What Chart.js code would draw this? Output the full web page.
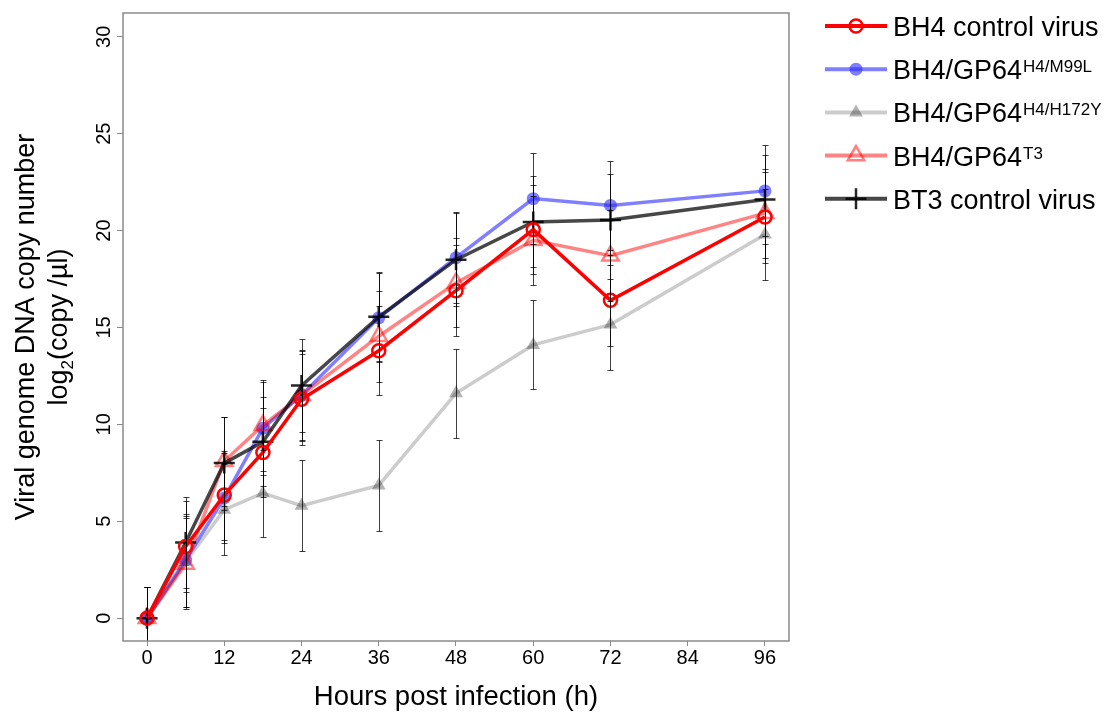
<!DOCTYPE html>
<html>
<head>
<meta charset="utf-8">
<script src="https://cdn.jsdelivr.net/npm/chart.js@4/dist/chart.umd.min.js"></script>
<style>
  html, body { margin: 0; padding: 0; background: #ffffff; }
  #wrap { width: 1117px; height: 720px; }
</style>
</head>
<body>
<div id="wrap"><canvas id="growth" width="1117" height="720"></canvas></div>
<script>
// Sampling times (hours post infection)
const hours = [0, 6, 12, 18, 24, 36, 48, 60, 72, 96];

// Mean viral genome copy number, log2(copy/µl)
const bh4Control = [0, 3.7, 6.35, 8.55, 11.3, 13.8, 16.9, 20.05, 16.4, 20.7];
const bh4M99L    = [0, 3.0, 6.2, 9.8, 11.5, 15.5, 18.6, 21.65, 21.3, 22.05];
const bh4H172Y   = [0, 2.9, 5.6, 6.45, 5.8, 6.85, 11.6, 14.1, 15.15, 19.8];
const bh4T3      = [0, 2.8, 8.1, 9.95, 11.5, 14.55, 17.3, 19.5, 18.7, 20.9];
const bt3Control = [0, 3.9, 8.0, 9.1, 12.0, 15.55, 18.5, 20.45, 20.55, 21.6];

// Standard deviations
const bh4ControlSd = [1.6, 2.35, 2.3, 2.3, 2.35, 2.3, 2.35, 2.3, 2.35, 2.35];
const bh4M99LSd    = [1.6, 2.4, 2.3, 2.4, 2.35, 2.3, 2.35, 2.35, 2.3, 2.35];
const bh4H172YSd   = [1.6, 2.35, 2.35, 2.25, 2.35, 2.35, 2.3, 2.3, 2.35, 2.35];
const bh4T3Sd      = [1.6, 2.35, 2.3, 2.35, 2.3, 2.35, 2.3, 2.3, 2.35, 2.3];
const bt3ControlSd = [1.6, 2.35, 2.4, 2.3, 2.4, 2.3, 2.4, 2.35, 2.35, 2.3];

// Series names (main text + superscript)
const seriesNames = ['BH4 control virus', 'BH4/GP64', 'BH4/GP64', 'BH4/GP64', 'BT3 control virus'];
const seriesSup   = ['', 'H4/M99L', 'H4/H172Y', 'T3', ''];

// Axis ticks and titles
const xTicks = [0, 12, 24, 36, 48, 60, 72, 84, 96];
const yTicks = [0, 5, 10, 15, 20, 25, 30];
const xTitle = 'Hours post infection (h)';
const yTitleLine1 = 'Viral genome DNA copy number';
const yTitleLine2 = ['log', '2', '(copy /µl)'];

const FONT = '"Liberation Sans", Arial, Helvetica, sans-serif';

const toPoints = (vals) => hours.map((h, i) => ({ x: h, y: vals[i] }));

const datasets = [
  {
    label: seriesNames[0], data: toPoints(bh4Control), sd: bh4ControlSd, order: 0,
    borderColor: '#ff0000', borderWidth: 3.5,
    pointStyle: 'circle', pointRadius: 6.5, pointBorderWidth: 2.5,
    pointBorderColor: '#ff0000', pointBackgroundColor: 'rgba(255,255,255,0)'
  },
  {
    label: seriesNames[1], data: toPoints(bh4M99L), sd: bh4M99LSd, order: 3,
    borderColor: 'rgba(0,0,255,0.5)', borderWidth: 3.5,
    pointStyle: 'circle', pointRadius: 6.5, pointBorderWidth: 0,
    pointBorderColor: 'rgba(0,0,0,0)', pointBackgroundColor: 'rgba(40,40,255,0.6)'
  },
  {
    label: seriesNames[2], data: toPoints(bh4H172Y), sd: bh4H172YSd, order: 4,
    borderColor: 'rgba(0,0,0,0.2)', borderWidth: 3.5,
    pointStyle: 'triangle', pointRadius: 8, pointBorderWidth: 0,
    pointBorderColor: 'rgba(0,0,0,0)', pointBackgroundColor: 'rgba(0,0,0,0.3)'
  },
  {
    label: seriesNames[3], data: toPoints(bh4T3), sd: bh4T3Sd, order: 2,
    borderColor: 'rgba(255,0,0,0.48)', borderWidth: 3.5,
    pointStyle: 'triangle', pointRadius: 9.5, pointBorderWidth: 2.5,
    pointBorderColor: 'rgba(255,0,0,0.5)', pointBackgroundColor: 'rgba(255,255,255,0)'
  },
  {
    label: seriesNames[4], data: toPoints(bt3Control), sd: bt3ControlSd, order: 1,
    borderColor: 'rgba(0,0,0,0.72)', borderWidth: 3.5,
    pointStyle: 'cross', pointRadius: 10.5, pointBorderWidth: 2.5,
    pointBorderColor: 'rgba(0,0,0,0.85)', pointBackgroundColor: 'rgba(0,0,0,0)'
  }
];
datasets.forEach(d => { d.fill = false; d.tension = 0; d.pointHoverRadius = d.pointRadius; });

// Error bars with small caps, drawn over the series lines
const errorBars = {
  id: 'errorBars',
  afterDatasetsDraw(chart) {
    const { ctx, chartArea, scales: { x, y } } = chart;
    ctx.save();
    ctx.beginPath();
    ctx.rect(chartArea.left, chartArea.top, chartArea.right - chartArea.left, chartArea.bottom - chartArea.top);
    ctx.clip();
    ctx.strokeStyle = 'rgba(0,0,0,0.75)';
    ctx.lineWidth = 1;
    chart.data.datasets.forEach(ds => {
      ds.data.forEach((p, i) => {
        const e = ds.sd[i];
        const px = Math.round(x.getPixelForValue(p.x)) + 0.5;
        const yt = Math.round(y.getPixelForValue(p.y + e)) + 0.5;
        const yb = Math.round(y.getPixelForValue(p.y - e)) + 0.5;
        ctx.beginPath();
        ctx.moveTo(px, yt); ctx.lineTo(px, yb);
        ctx.moveTo(px - 3, yt); ctx.lineTo(px + 3, yt);
        ctx.moveTo(px - 3, yb); ctx.lineTo(px + 3, yb);
        ctx.stroke();
      });
    });
    ctx.restore();
  }
};

// Plot frame, rotated y tick labels, y title and legend
const decorations = {
  id: 'decorations',
  afterDraw(chart) {
    const { ctx, chartArea, scales: { y } } = chart;
    ctx.save();

    // frame
    ctx.strokeStyle = '#8a8a8a';
    ctx.lineWidth = 1.5;
    ctx.strokeRect(chartArea.left, chartArea.top, chartArea.right - chartArea.left, chartArea.bottom - chartArea.top);

    // y tick labels, reading upwards
    ctx.fillStyle = '#000000';
    ctx.font = '20px ' + FONT;
    ctx.textAlign = 'center';
    ctx.textBaseline = 'middle';
    y.ticks.forEach(t => {
      const py = y.getPixelForValue(t.value);
      ctx.save();
      ctx.translate(104, py);
      ctx.rotate(-Math.PI / 2);
      ctx.fillText(String(t.value), 0, 0);
      ctx.restore();
    });

    // y title, two lines
    const midY = (chartArea.top + chartArea.bottom) / 2;
    ctx.save();
    ctx.translate(34, midY);
    ctx.rotate(-Math.PI / 2);
    ctx.font = '27px ' + FONT;
    ctx.textAlign = 'center';
    ctx.textBaseline = 'alphabetic';
    ctx.fillText(yTitleLine1, 0, 0);
    ctx.restore();

    ctx.save();
    ctx.translate(67, midY);
    ctx.rotate(-Math.PI / 2);
    ctx.textAlign = 'left';
    ctx.textBaseline = 'alphabetic';
    const bigF = '27px ' + FONT, smallF = '17px ' + FONT;
    ctx.font = bigF; const w0 = ctx.measureText(yTitleLine2[0]).width;
    ctx.font = smallF; const w1 = ctx.measureText(yTitleLine2[1]).width;
    ctx.font = bigF; const w2 = ctx.measureText(yTitleLine2[2]).width;
    let cx = -(w0 + w1 + w2) / 2;
    ctx.font = bigF; ctx.fillText(yTitleLine2[0], cx, 0); cx += w0;
    ctx.font = smallF; ctx.fillText(yTitleLine2[1], cx, 6); cx += w1;
    ctx.font = bigF; ctx.fillText(yTitleLine2[2], cx, 0);
    ctx.restore();

    // legend
    const rowY0 = 26, rowStep = 43.2;
    chart.data.datasets.forEach((ds, i) => {
      const ry = rowY0 + i * rowStep;
      ctx.save();
      ctx.strokeStyle = ds.borderColor;
      ctx.lineWidth = 4;
      ctx.beginPath();
      ctx.moveTo(825, ry); ctx.lineTo(887, ry);
      ctx.stroke();
      ctx.strokeStyle = ds.pointBorderColor;
      ctx.fillStyle = ds.pointBackgroundColor;
      ctx.lineWidth = ds.pointBorderWidth;
      Chart.helpers.drawPoint(ctx, {
        pointStyle: ds.pointStyle, radius: ds.pointRadius, rotation: 0, borderWidth: ds.pointBorderWidth
      }, 856, ry);
      ctx.restore();

      ctx.fillStyle = '#000000';
      ctx.textAlign = 'left';
      ctx.textBaseline = 'alphabetic';
      ctx.font = '27px ' + FONT;
      const base = ry + 10;
      ctx.fillText(seriesNames[i], 893, base);
      if (seriesSup[i]) {
        const w = ctx.measureText(seriesNames[i]).width;
        ctx.font = '17px ' + FONT;
        ctx.fillText(seriesSup[i], 893 + w + 1, base - 7);
      }
    });

    ctx.restore();
  }
};

new Chart(document.getElementById('growth'), {
  type: 'line',
  data: { datasets },
  plugins: [errorBars, decorations],
  options: {
    responsive: false,
    animation: false,
    events: [],
    layout: { padding: { left: 0, right: 328, top: 8, bottom: 0 } },
    plugins: { legend: { display: false }, tooltip: { enabled: false } },
    scales: {
      x: {
        type: 'linear',
        min: -3.73, max: 99.73,
        afterBuildTicks: (s) => { s.ticks = xTicks.map(v => ({ value: v })); },
        afterFit: (s) => { s.height = 79; },
        grid: { display: true, drawOnChartArea: false, drawTicks: true, tickLength: 5, tickColor: '#8a8a8a' },
        border: { display: false },
        ticks: { color: '#000000', font: { family: FONT, size: 20 }, padding: 0, maxRotation: 0, autoSkip: false },
        title: { display: true, text: xTitle, color: '#000000', font: { family: FONT, size: 27.5 }, padding: { top: 0, bottom: 6.5 } }
      },
      y: {
        type: 'linear',
        min: -1.18, max: 31.23,
        afterBuildTicks: (s) => { s.ticks = yTicks.map(v => ({ value: v })); },
        afterFit: (s) => { s.width = 123; },
        grid: { display: true, drawOnChartArea: false, drawTicks: true, tickLength: 6, tickColor: '#8a8a8a' },
        border: { display: false },
        ticks: { display: false }
      }
    }
  }
});
</script>
</body>
</html>
